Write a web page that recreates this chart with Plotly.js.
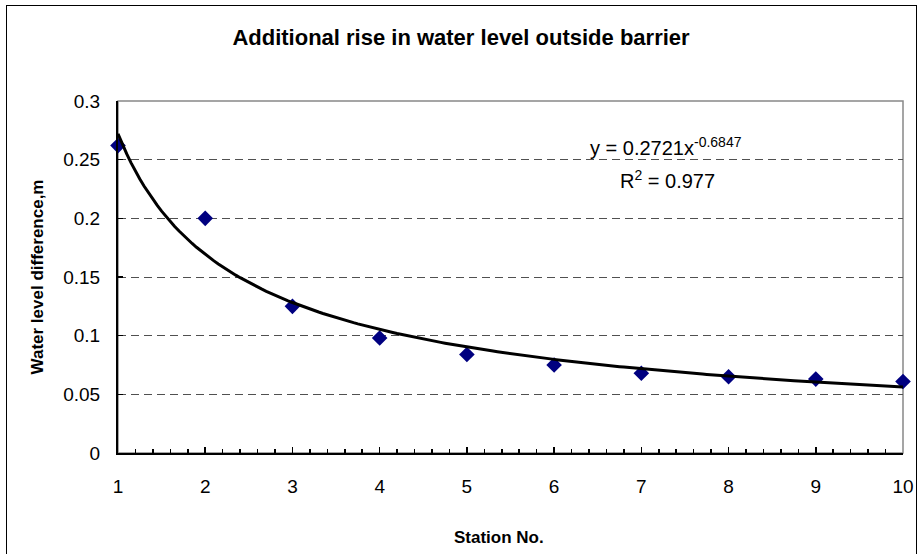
<!DOCTYPE html>
<html>
<head>
<meta charset="utf-8">
<script src="https://cdn.plot.ly/plotly-3.0.1.min.js"></script>
<style>
  html, body { margin: 0; padding: 0; background: #fff; }
  #frame { position: absolute; left: 6px; top: 5px; width: 911px; height: 600px;
           border: 1px solid #000; border-bottom: none; box-sizing: border-box; }
  #chart { position: absolute; left: 0; top: 0; width: 922px; height: 554px; }
</style>
</head>
<body>
<div id="frame"></div>
<div id="chart"></div>
<script>
// Measured rise in water level at each station
const stations = [1, 2, 3, 4, 5, 6, 7, 8, 9, 10];
const levelDiff = [0.262, 0.200, 0.125, 0.098, 0.084, 0.075, 0.068, 0.065, 0.063, 0.061];

// Power trendline coefficients: y = a * x^b
const fitA = 0.2721;
const fitB = -0.6847;
const fitR2 = 0.977;

const fitX = [];
const fitY = [];
for (let i = 0; i <= 180; i++) {
  const x = 1 + i * 0.05;
  fitX.push(x);
  fitY.push(fitA * Math.pow(x, fitB));
}

const font = 'Arial, "Liberation Sans", sans-serif';

const traces = [
  {
    x: stations, y: levelDiff, type: 'scatter', mode: 'markers',
    marker: { symbol: 'diamond', size: 12, color: '#000080' },
    cliponaxis: false, hoverinfo: 'x+y'
  },
  {
    x: fitX, y: fitY, type: 'scatter', mode: 'lines',
    line: { color: '#000', width: 3 }, hoverinfo: 'skip'
  }
];

const layout = {
  width: 922, height: 554,
  paper_bgcolor: 'rgba(0,0,0,0)', plot_bgcolor: '#fff',
  margin: { l: 118, r: 19, t: 101, b: 101 },
  showlegend: false,
  font: { family: font, size: 19, color: '#000' },
  title: {
    text: '<b>Additional rise in water level outside barrier</b>',
    font: { family: font, size: 22, color: '#000' },
    x: 0.5, xanchor: 'center', y: 1 - 37 / 554, yanchor: 'middle'
  },
  xaxis: {
    range: [1, 10], tick0: 1, dtick: 1,
    ticks: 'inside', ticklen: 6, tickwidth: 1.5, tickcolor: '#000',
    ticklabelstandoff: 15,
    minor: { dtick: 0.2, ticks: 'inside', ticklen: 4, tickwidth: 1.5, tickcolor: '#000', showgrid: false },
    showline: true, linecolor: '#000', linewidth: 2,
    showgrid: false, zeroline: false,
    tickfont: { family: font, size: 19, color: '#000' }
  },
  yaxis: {
    range: [0, 0.3], tick0: 0, dtick: 0.05,
    ticks: 'inside', ticklen: 5, tickwidth: 1.5, tickcolor: '#000',
    ticklabelstandoff: 12,
    showline: true, linecolor: '#000', linewidth: 2,
    showgrid: true, gridcolor: '#505050', gridwidth: 1, griddash: '8px,5px',
    zeroline: false,
    tickfont: { family: font, size: 19, color: '#000' },
    title: { text: '<b>Water level difference,m</b>', font: { family: font, size: 17, color: '#000' }, standoff: 15 }
  },
  shapes: [
    { type: 'rect', xref: 'paper', yref: 'paper', x0: 0, x1: 1, y0: 0, y1: 1,
      line: { color: '#888', width: 1.5 }, layer: 'below' }
  ],
  annotations: [
    // x-axis title, placed a little left of the plot centre
    { xref: 'paper', yref: 'paper', x: 0.485, y: -0.239, xanchor: 'center', yanchor: 'middle',
      showarrow: false, text: '<b>Station No.</b>',
      font: { family: font, size: 17, color: '#000' } },
    { xref: 'x', yref: 'y', x: 7.28, y: 0.261, showarrow: false,
      text: 'y = ' + fitA + 'x<sup>' + fitB + '</sup>',
      font: { family: font, size: 20, color: '#000' } },
    { xref: 'x', yref: 'y', x: 7.3, y: 0.2335, showarrow: false,
      text: 'R<sup>2</sup> = ' + fitR2,
      font: { family: font, size: 20, color: '#000' } }
  ]
};

Plotly.newPlot('chart', traces, layout, { staticPlot: true });
</script>
</body>
</html>
